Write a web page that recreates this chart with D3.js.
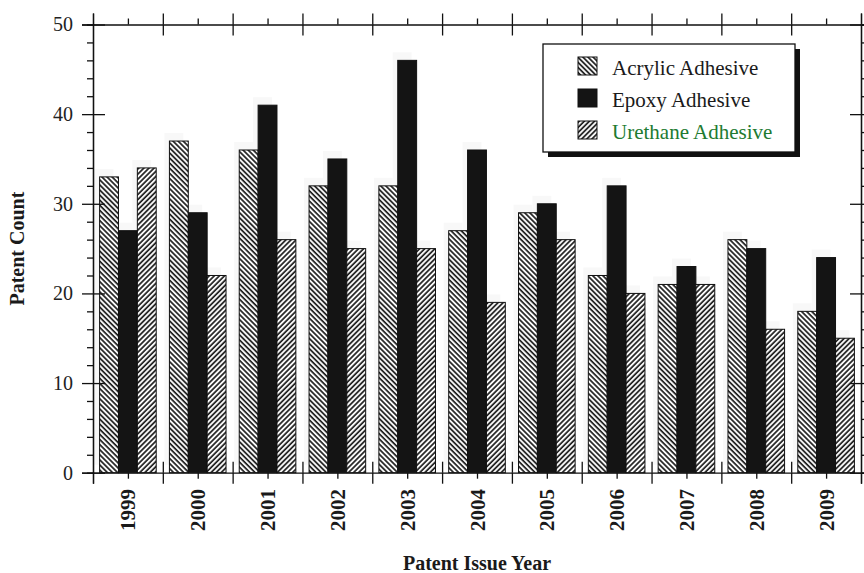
<!DOCTYPE html>
<html>
<head>
<meta charset="utf-8">
<script src="https://cdn.jsdelivr.net/npm/d3@7"></script>
<style>
  body { margin: 0; background: #fff; }
  svg text { font-family: 'Liberation Serif', 'Times New Roman', serif; }
  .axis path, .axis line { stroke: #111; stroke-width: 1.3; }
  .axis text { font-size: 20px; fill: #222; font-family: 'Liberation Serif', 'Times New Roman', serif; }
</style>
</head>
<body>
<div id="chart"></div>
<script>
'use strict';
// Chart data
const years = ['1999', '2000', '2001', '2002', '2003', '2004', '2005', '2006', '2007', '2008', '2009']
const seriesNames = ['Acrylic Adhesive', 'Epoxy Adhesive', 'Urethane Adhesive']
const acrylic = [33, 37, 36, 32, 32, 27, 29, 22, 21, 26, 18]
const epoxy = [27, 29, 41, 35, 46, 36, 30, 32, 23, 25, 24]
const urethane = [34, 22, 26, 25, 25, 19, 26, 20, 21, 16, 15]
const yTicks = [0, 10, 20, 30, 40, 50]

const W = 864, H = 573
const serif = "'Liberation Serif', 'Times New Roman', serif"
const plot = { left: 93, right: 861, top: 24.5, bottom: 472.7 }

const svg = d3.select('#chart').append('svg')
  .attr('width', W)
  .attr('height', H)
  .style('display', 'block')

// Hatch patterns
const defs = svg.append('defs')
function hatch(id, angle) {
  const p = defs.append('pattern')
    .attr('id', id)
    .attr('patternUnits', 'userSpaceOnUse')
    .attr('width', 3.6)
    .attr('height', 10)
    .attr('patternTransform', `rotate(${angle})`)
  p.append('rect').attr('width', 3.6).attr('height', 10).attr('fill', '#fff')
  p.append('line')
    .attr('x1', 1).attr('x2', 1).attr('y1', 0).attr('y2', 10)
    .attr('stroke', '#1a1a1a').attr('stroke-width', 1.7)
}
hatch('hatch-acrylic', -45)
hatch('hatch-urethane', 45)

const fills = ['url(#hatch-acrylic)', '#141414', 'url(#hatch-urethane)']
const seriesData = [acrylic, epoxy, urethane]

const x = d3.scaleBand().domain(years).range([plot.left, plot.right]).padding(0)
const xs = d3.scaleBand().domain(seriesNames).range([0, x.bandwidth()]).paddingInner(0).paddingOuter(0.35)
const xb = d3.scaleLinear().domain([0, years.length]).range([plot.left, plot.right])
const y = d3.scaleLinear().domain([0, 50]).range([plot.bottom, plot.top])

const rows = []
years.forEach((yr, i) => {
  seriesNames.forEach((s, j) => rows.push({ year: yr, series: s, idx: j, value: seriesData[j][i] }))
})

// Faint ghost shadow behind bars
svg.append('g').selectAll('rect').data(rows).join('rect')
  .attr('x', d => x(d.year) + xs(d.series) - 5)
  .attr('y', d => y(d.value) - 8)
  .attr('width', xs.bandwidth())
  .attr('height', d => y(0) - y(d.value))
  .attr('fill', '#f8f8f8')

// Bars
svg.append('g').selectAll('rect').data(rows).join('rect')
  .attr('x', d => x(d.year) + xs(d.series))
  .attr('y', d => y(d.value))
  .attr('width', xs.bandwidth())
  .attr('height', d => y(0) - y(d.value))
  .attr('fill', d => fills[d.idx])
  .attr('stroke', '#111')
  .attr('stroke-width', 1)

// Tick positions
const minorY = d3.range(0, 51, 2).filter(v => v % 10 !== 0)
const boundaries = d3.range(0, years.length + 1)
const centers = d3.range(0.5, years.length, 1)

function axisGroup(tx, ty) {
  return svg.append('g').attr('class', 'axis')
    .attr('transform', `translate(${tx},${ty})`)
    .attr('font-family', serif)
}

// Left axis
axisGroup(plot.left, 0)
  .call(d3.axisLeft(y).tickValues(yTicks).tickSize(11).tickPadding(9))
axisGroup(plot.left, 0)
  .call(d3.axisRight(y).tickValues(yTicks).tickSize(12).tickFormat(''))
  .call(g => g.select('.domain').remove())
axisGroup(plot.left, 0)
  .call(d3.axisLeft(y).tickValues(minorY).tickSize(6).tickFormat(''))

// Right axis
axisGroup(plot.right, 0)
  .call(d3.axisRight(y).tickValues(yTicks).tickSize(11).tickFormat(''))
axisGroup(plot.right, 0)
  .call(d3.axisLeft(y).tickValues(yTicks).tickSize(11).tickFormat(''))
  .call(g => g.select('.domain').remove())
axisGroup(plot.right, 0)
  .call(d3.axisRight(y).tickValues(minorY).tickSize(6).tickFormat(''))

// Bottom axis
axisGroup(0, plot.bottom)
  .call(d3.axisBottom(xb).tickValues(boundaries).tickSize(11).tickFormat(''))
axisGroup(0, plot.bottom)
  .call(d3.axisTop(xb).tickValues(boundaries.slice(1, -1)).tickSize(11).tickFormat(''))
  .call(g => g.select('.domain').remove())
axisGroup(0, plot.bottom)
  .call(d3.axisBottom(xb).tickValues(centers).tickSize(6).tickFormat(''))
  .call(g => g.select('.domain').remove())

// Top axis
axisGroup(0, plot.top)
  .call(d3.axisTop(xb).tickValues(boundaries).tickSize(11).tickFormat(''))
axisGroup(0, plot.top)
  .call(d3.axisBottom(xb).tickValues(boundaries.slice(1, -1)).tickSize(11).tickFormat(''))
  .call(g => g.select('.domain').remove())
axisGroup(0, plot.top)
  .call(d3.axisTop(xb).tickValues(centers).tickSize(6).tickFormat(''))
  .call(g => g.select('.domain').remove())

// Year labels
svg.append('g').selectAll('text').data(years).join('text')
  .attr('transform', d => `translate(${x(d) + x.bandwidth() / 2},489) rotate(-90)`)
  .attr('text-anchor', 'end')
  .attr('dy', '0.36em')
  .attr('font-family', serif)
  .attr('font-size', 21)
  .attr('font-weight', 'bold')
  .attr('fill', '#1a1a1a')
  .text(d => d)

// Axis titles
svg.append('text')
  .attr('transform', `translate(24,${(plot.top + plot.bottom) / 2}) rotate(-90)`)
  .attr('text-anchor', 'middle')
  .attr('font-family', serif)
  .attr('font-size', 20)
  .attr('font-weight', 'bold')
  .attr('fill', '#1a1a1a')
  .text('Patent Count')
svg.append('text')
  .attr('x', 477)
  .attr('y', 570)
  .attr('text-anchor', 'middle')
  .attr('font-family', serif)
  .attr('font-size', 20)
  .attr('font-weight', 'bold')
  .attr('fill', '#1a1a1a')
  .text('Patent Issue Year')

// Legend
const legend = svg.append('g').attr('transform', 'translate(543,44)')
legend.append('rect')
  .attr('x', 5).attr('y', 5).attr('width', 252).attr('height', 108)
  .attr('fill', '#111')
legend.append('rect')
  .attr('width', 252).attr('height', 108)
  .attr('fill', '#fff').attr('stroke', '#111').attr('stroke-width', 1.3)
const textColors = ['#1a1a1a', '#1a1a1a', '#217a30']
seriesNames.forEach((s, i) => {
  legend.append('rect')
    .attr('x', 35).attr('y', 13 + i * 32).attr('width', 19).attr('height', 18)
    .attr('fill', fills[i]).attr('stroke', '#111').attr('stroke-width', 1)
  legend.append('text')
    .attr('x', 69).attr('y', 31 + i * 32)
    .attr('font-family', serif)
    .attr('font-size', 21)
    .attr('fill', textColors[i])
    .text(s)
})
</script>
</body>
</html>
